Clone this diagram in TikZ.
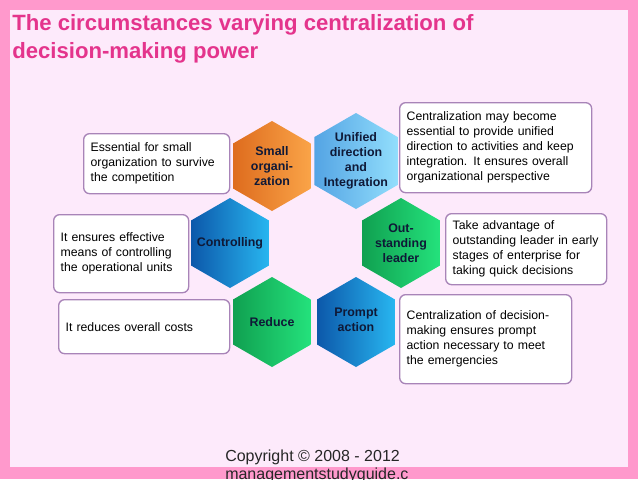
\documentclass[tikz,border=0pt]{standalone}
\usepackage{fontspec}
\setmainfont{Liberation Sans}
\usetikzlibrary{shapes.geometric}
\definecolor{frame}{RGB}{255,153,204}
\definecolor{panel}{RGB}{253,234,251}
\definecolor{titlepink}{RGB}{228,52,140}
\definecolor{noteline}{RGB}{168,132,184}
\definecolor{hexink}{RGB}{15,25,55}
\definecolor{orgA}{RGB}{222,108,30}
\definecolor{orgB}{RGB}{250,164,72}
\definecolor{skyA}{RGB}{84,164,228}
\definecolor{skyB}{RGB}{146,222,252}
\definecolor{bluA}{RGB}{12,88,170}
\definecolor{bluB}{RGB}{40,182,240}
\definecolor{grnA}{RGB}{16,160,80}
\definecolor{grnB}{RGB}{36,226,124}
\tikzset{
  hexa/.style={regular polygon, regular polygon sides=6, shape border rotate=30,
    minimum size=67.5pt, inner sep=0pt},
  hextext/.style={font=\fontsize{9.3}{11.25}\selectfont\bfseries, text=hexink, align=center},
  note/.style={draw=noteline, line width=1pt, fill=white, rounded corners=4.5pt,
    anchor=north west, align=left, inner xsep=5.25pt, inner ysep=0pt,
    font=\fontsize{9.2}{11.25}\selectfont}
}
\begin{document}
\begin{tikzpicture}[x=0.75pt,y=-0.75pt]
\useasboundingbox (0,0) rectangle (638,479);
\clip (0,0) rectangle (638,479);
\fill[frame] (0,0) rectangle (638,479);
\fill[panel] (10,10) rectangle (628,467);
\node[anchor=north west, inner sep=0pt, align=left, text=titlepink,
  font=\fontsize{16.6}{21}\selectfont\bfseries] (title) at (12,14)
  {The circumstances varying centralization of\\decision-making power};
% hexagon ring
\node[hexa, left color=orgA, right color=orgB] (hexSmall) at (272,166) {};
\node[hexa, minimum size=72pt, left color=skyA, right color=skyB] (hexUnified) at (356,161) {};
\node[hexa, left color=grnA, right color=grnB] (hexLeader) at (401,243) {};
\node[hexa, left color=bluA, right color=bluB] (hexPrompt) at (356,322) {};
\node[hexa, left color=grnA, right color=grnB] (hexReduce) at (272,322) {};
\node[hexa, left color=bluA, right color=bluB] (hexControl) at (230,243) {};
\node[hextext] (tSmall) at (hexSmall) {Small\\organi-\\zation};
\node[hextext] (tUnified) at (hexUnified) {Unified\\direction\\and\\Integration};
\node[hextext] (tLeader) at (hexLeader) {Out-\\standing\\leader};
\node[hextext] (tPrompt) at ([yshift=2]hexPrompt) {Prompt\\action};
\node[hextext] (tReduce) at (hexReduce) {Reduce};
\node[hextext] (tControl) at (hexControl) {Controlling};
% notes
\node[note, text width=99pt, minimum height=45pt] (noteSmall) at (83,133)
  {Essential for small\\organization to survive\\the competition};
\node[note, text width=90.75pt, minimum height=58.5pt] (noteControl) at (53,214)
  {It ensures effective\\means of controlling\\the operational units};
\node[note, text width=117.75pt, minimum height=40.5pt] (noteReduce) at (58,299)
  {It reduces overall costs};
\node[note, text width=133.5pt, minimum height=67.5pt] (noteUnified) at (399,102)
  {Centralization may become\\essential to provide unified\\direction to activities and keep\\integration. It ensures overall\\organizational perspective};
\node[note, text width=110.25pt, minimum height=53.25pt] (noteLeader) at (445,213)
  {Take advantage of\\outstanding leader in early\\stages of enterprise for\\taking quick decisions};
\node[note, text width=118.5pt, minimum height=66.75pt] (notePrompt) at (399,294)
  {Centralization of decision-\\making ensures prompt\\action necessary to meet\\the emergencies};
\node[anchor=north west, inner sep=0pt, align=left, text=black!85,
  font=\fontsize{12}{13.5}\selectfont] (copy) at (225,450)
  {Copyright \textcopyright{} 2008 - 2012\\managementstudyguide.c};
\end{tikzpicture}
\end{document}
